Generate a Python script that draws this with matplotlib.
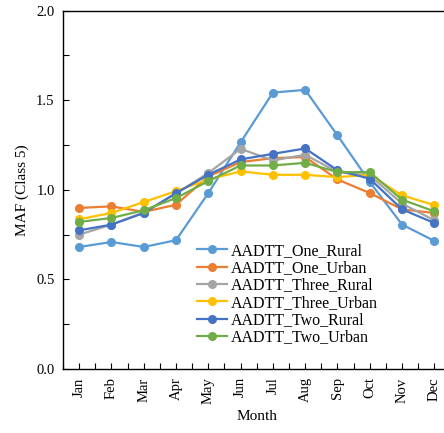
import matplotlib
matplotlib.use("Agg")
import matplotlib.pyplot as plt
from matplotlib.ticker import MultipleLocator

plt.rcParams['font.family'] = ['Liberation Serif', 'DejaVu Serif']

months = ["Jan", "Feb", "Mar", "Apr", "May", "Jun", "Jul", "Aug", "Sep", "Oct", "Nov", "Dec"]
one_rural = [0.681, 0.709, 0.681, 0.719, 0.982, 1.265, 1.543, 1.558, 1.304, 1.044, 0.806, 0.715]
one_urban = [0.899, 0.908, 0.877, 0.917, 1.075, 1.155, 1.177, 1.183, 1.058, 0.982, 0.891, 0.871]
three_rural = [0.750, 0.806, 0.873, 0.979, 1.094, 1.229, 1.164, 1.196, 1.099, 1.081, 0.923, 0.830]
three_urban = [0.836, 0.871, 0.932, 0.993, 1.058, 1.103, 1.084, 1.084, 1.071, 1.084, 0.969, 0.915]
two_rural = [0.774, 0.806, 0.871, 0.982, 1.084, 1.170, 1.201, 1.231, 1.109, 1.062, 0.891, 0.815]
two_urban = [0.821, 0.843, 0.886, 0.954, 1.049, 1.136, 1.136, 1.151, 1.099, 1.099, 0.945, 0.880]

series = [
    ("AADTT_One_Rural", one_rural, "#5B9BD5"),
    ("AADTT_One_Urban", one_urban, "#ED7D31"),
    ("AADTT_Three_Rural", three_rural, "#A5A5A5"),
    ("AADTT_Three_Urban", three_urban, "#FFC000"),
    ("AADTT_Two_Rural", two_rural, "#4472C4"),
    ("AADTT_Two_Urban", two_urban, "#70AD47"),
]

W, H = 444, 433
fig = plt.figure(figsize=(W / 100, H / 100), dpi=100)
ax_left, ax_right, ax_top, ax_bottom = 63, 450.5, 10.7, 369
ax = fig.add_axes([ax_left / W, 1 - ax_bottom / H, (ax_right - ax_left) / W, (ax_bottom - ax_top) / H])

x = list(range(len(months)))
for label, vals, color in series:
    ax.plot(x, vals, color=color, lw=1.6, marker='o', ms=5.5, label=label)

ax.set_xlim(-0.5, 11.5)
ax.set_ylim(0, 2.0)
ax.set_xticks(x)
ax.set_xticklabels(months, rotation=90, fontsize=10.5)
ax.set_xticks([i + 0.5 for i in range(-1, 12)], minor=True)
ax.yaxis.set_major_locator(MultipleLocator(0.5))
ax.yaxis.set_minor_locator(MultipleLocator(0.25))
ax.yaxis.set_major_formatter(matplotlib.ticker.FormatStrFormatter('%.1f'))
ax.tick_params(axis='both', which='both', direction='in', labelsize=10.5, width=0.8, color='black')
ax.tick_params(axis='both', which='major', length=4)
ax.tick_params(axis='both', which='minor', length=4)
ax.tick_params(axis='y', pad=6)
ax.tick_params(axis='x', pad=6)
for s in ax.spines.values():
    s.set_linewidth(1.0)

ax.set_xlabel("Month", fontsize=11, labelpad=4)
ax.set_ylabel("MAF (Class 5)", fontsize=11, labelpad=5)

leg = ax.legend(loc='upper left', bbox_to_anchor=(197 / W, 1 - 243 / H), bbox_transform=fig.transFigure,
                frameon=False, fontsize=11.5, handlelength=1.9, handletextpad=0.2,
                labelspacing=0.08, borderpad=0, borderaxespad=0)

fig.savefig("out.png", dpi=100)
